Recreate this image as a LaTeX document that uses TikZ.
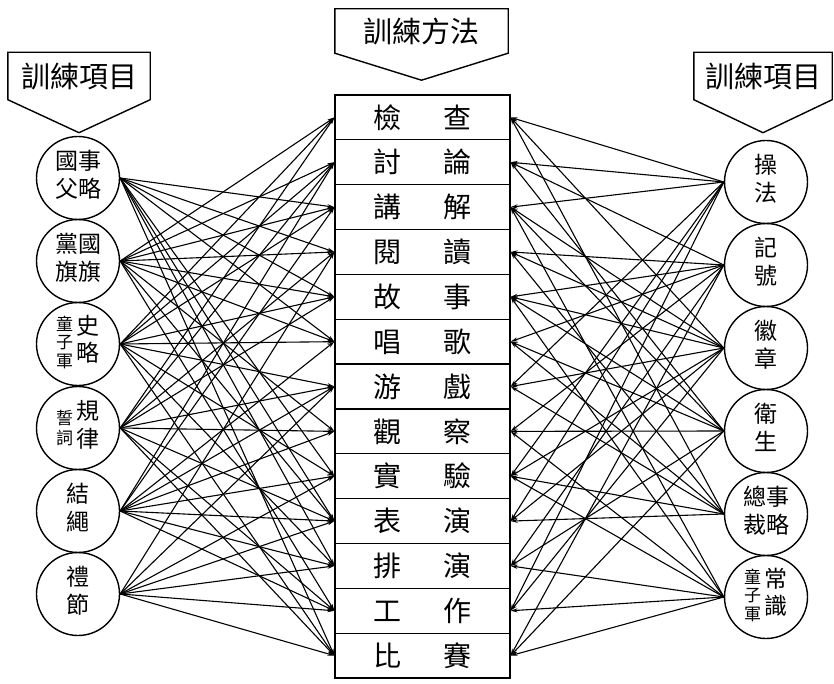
\documentclass[tikz,border=0pt]{standalone}
\usepackage{fontspec}
\newfontfamily\cjk{Noto Sans CJK TC}
\usepackage{tikz}
\usetikzlibrary{arrows.meta,positioning}

\newcommand{\vcol}[1]{\begin{tabular}{@{}c@{}}#1\end{tabular}}
\newcommand{\svcol}[1]{{\fontsize{17}{18}\selectfont\vcol{#1}}}

\begin{document}
\begin{tikzpicture}[x=1pt, y=-1pt,
    item/.style={draw, circle, line width=1.4pt, minimum size=83pt, inner sep=0pt, font=\cjk\fontsize{23}{27}\selectfont},
    method/.style={draw, rectangle, line width=1.3pt, minimum width=175pt, minimum height=44.85pt, inner sep=0pt, font=\cjk\fontsize{28}{30}\selectfont},
    head/.style={rectangle, inner sep=0pt, font=\cjk\fontsize{29}{31}\selectfont},
    link/.style={line width=1.1pt, -{Stealth[length=7pt,width=4pt]}}]
    \useasboundingbox (0,0) rectangle (834,684);

    % Headers
    \node[head, minimum width=142pt, minimum height=47pt] (hl) at (79,76) {訓練項目};
    \node[head, minimum width=173pt, minimum height=44pt] (hm) at (421.5,31) {訓練方法};
    \node[head, minimum width=138pt, minimum height=47pt] (hr) at (763,76) {訓練項目};
    \foreach \h/\tip in {hl/33, hm/27, hr/33} {
        \draw[line width=1.4pt] (\h.south west) -- (\h.north west) -- (\h.north east)
            -- (\h.south east) -- ([yshift=-\tip pt]\h.south) -- cycle;
    }

    % Training methods (middle)
    \foreach \i/\a/\b in {1/檢/查, 2/討/論, 3/講/解, 4/閱/讀, 5/故/事, 6/唱/歌, 7/游/戲,
                          8/觀/察, 9/實/驗, 10/表/演, 11/排/演, 12/工/作, 13/比/賽} {
        \node[method] (m\i) at (422.5, {72.575+44.85*\i}) {\a\hspace{1.5em}\b};
    }

    % Training items (left)
    \node[item] (l1) at (78,178) {\vcol{國\\父}\vcol{事\\略}};
    \node[item] (l2) at (78,261) {\vcol{黨\\旗}\vcol{國\\旗}};
    \node[item] (l3) at (78,344) {\svcol{童\\子\\軍}\,\vcol{史\\略}};
    \node[item] (l4) at (78,428) {\svcol{誓\\詞}\,\vcol{規\\律}};
    \node[item] (l5) at (78,511) {\vcol{結\\繩}};
    \node[item] (l6) at (78,594) {\vcol{禮\\節}};

    % Training items (right)
    \node[item] (r1) at (766,182) {\vcol{操\\法}};
    \node[item] (r2) at (766,265) {\vcol{記\\號}};
    \node[item] (r3) at (766,348) {\vcol{徽\\章}};
    \node[item] (r4) at (766,431) {\vcol{衛\\生}};
    \node[item] (r5) at (766,514) {\vcol{總\\裁}\vcol{事\\略}};
    \node[item] (r6) at (766,597) {\svcol{童\\子\\軍}\,\vcol{常\\識}};

    % Links from items into methods
    \foreach \a/\list in {1/{3,4,5,6,9,10,11,13}, 2/{1,2,3,4,5,6,8,10,12},
                          3/{1,2,3,5,6,7,9,11,13}, 4/{1,2,4,5,7,8,10,12,13},
                          5/{2,3,6,7,8,9,10,11,12}, 6/{4,7,9,10,11,12,13}} {
        \foreach \b in \list { \draw[link] (l\a.east) -- (m\b.west); }
    }
    \foreach \a/\list in {1/{1,2,3,7,9,10,12}, 2/{2,4,5,6,8,11,13},
                          3/{1,3,4,5,7,9,10,12}, 4/{2,3,5,6,8,11,13},
                          5/{1,4,6,7,9,10}, 6/{3,5,8,9,11,12,13}} {
        \foreach \b in \list { \draw[link] (r\a.west) -- (m\b.east); }
    }
\end{tikzpicture}
\end{document}
